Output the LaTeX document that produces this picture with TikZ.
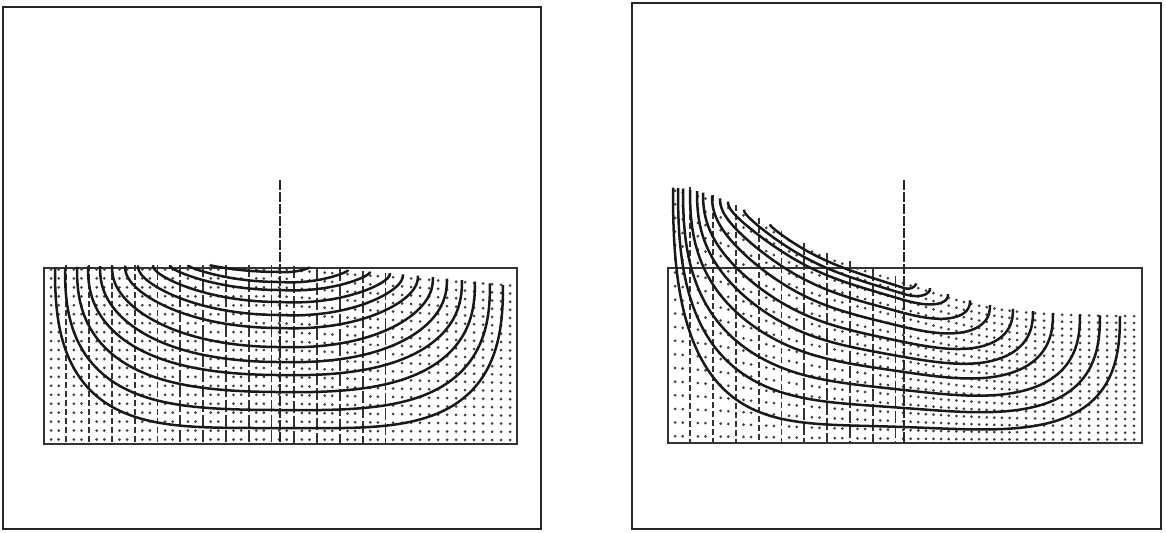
\documentclass[tikz,border=0pt]{standalone}
\usepackage{tikz}
\pgfmathdeclarefunction{surfl}{1}{\pgfmathparse{265+(#1>0)*16*#1/225}}
\pgfmathdeclarefunction{surfr}{1}{\pgfmathparse{175+90/(1+exp(-(#1+140)/40))+48/(1+exp(-(#1-25)/40))}}
\pgfmathdeclarefunction{rootv}{1}{\pgfmathparse{sqrt(sqrt(abs(#1)+0.00001))*sqrt(sqrt(sqrt(abs(#1)+0.00001)))}}
% shape of a flow line: position along it, left reach
\pgfmathdeclarefunction{bowl}{2}{\pgfmathparse{(#2/225)*(#2/225)*rootv(1-#1*#1*#1*#1)+(1-(#2/225)*(#2/225))*(1-#1*#1)}}
% one flow line: centre, surface, left reach, right reach, depth at centre
\newcommand{\flowline}[5]{
  \draw[flow] plot[smooth, domain=-90:90, samples=70, variable=\t]
    ({#1+sin(\t)*(\t<0?#3:#4)},
     {#2(sin(\t)*(\t<0?#3:#4))+(444-#2(sin(\t)*(\t<0?#3:#4)))
      *bowl(sin(\t),#3)*((#5-#2(0))/(444-#2(0)))});
}
% dots and ticks of one panel: centre, surface, last ticked column, rows, bottom
\newcommand{\meshdots}[5]{
  \foreach \k in {1,...,59} {
    \pgfmathsetmacro{\dx}{\k<47?-236.5+7.6*\k:113.1+9*(\k-46)}
    \pgfmathsetmacro{\sx}{#2(\dx)}
    \pgfmathtruncatemacro{\tick}{(mod(\k,3)==0)&&(\dx<#3)}
    \ifnum\tick=1
      \pgfmathsetmacro{\dsh}{(\dx>-115)?6:3}
      \draw[mtick, dash pattern=on \dsh pt off 1.5pt] ({#1+\dx},\sx) -- ({#1+\dx},#5);
    \else
      \fill[mdot] foreach \r in {0,...,#4} {
        ({#1+\dx},{\sx+(#5-\sx)*(\r+0.5)/(#4+1)}) circle[radius=0.75pt]
      };
    \fi
  }
}
\begin{document}
\begin{tikzpicture}[
  x=0.5pt, y=-0.5pt,
  frame/.style={draw=black!85, line width=1pt},
  inbox/.style={draw=black!80, line width=0.7pt},
  flow/.style={draw=black!90, line width=1.25pt},
  axis/.style={draw=black!85, line width=0.6pt},
  mtick/.style={draw=black!80, line width=0.9pt},
  mdot/.style={fill=black!75}
]
  \useasboundingbox (0,0) rectangle (1166,532);

  % --- Left panel ---
  \draw[frame] (3,7) rectangle (541,529);
  \draw[inbox] (44,268) rectangle (517,444);
  \meshdots{280}{surfl}{115}{19}{444}
  \foreach \aL/\aR/\bt in {225/223/428, 215/210/410, 203/195/392, 192/182/375, 180/167/362, 168/153/347,
                           155/138/328, 142/123/315, 127/110/302, 110/90/290, 92/68/282, 70/30/272} {
    \flowline{280}{surfl}{\aL}{\aR}{\bt}
  }
  \draw[axis, dash pattern=on 5pt off 1pt] (280,180) -- (280,444);

  % --- Right panel ---
  \draw[frame] (632,3) rectangle (1161,529);
  \draw[inbox] (668,268) rectangle (1142,443);
  \meshdots{904}{surfr}{10}{18}{443}
  \foreach \aL/\aR/\bt in {231/216/427, 226/196/408, 221/176/390, 214/149/372, 207/129/357, 201/109/342,
                           192/86/327, 184/66/313, 176/44/300, 160/26/294, 134/12/288} {
    \flowline{904}{surfr}{\aL}{\aR}{\bt}
  }
  \draw[axis, dash pattern=on 5pt off 1pt] (904,180) -- (904,443);
\end{tikzpicture}
\end{document}
